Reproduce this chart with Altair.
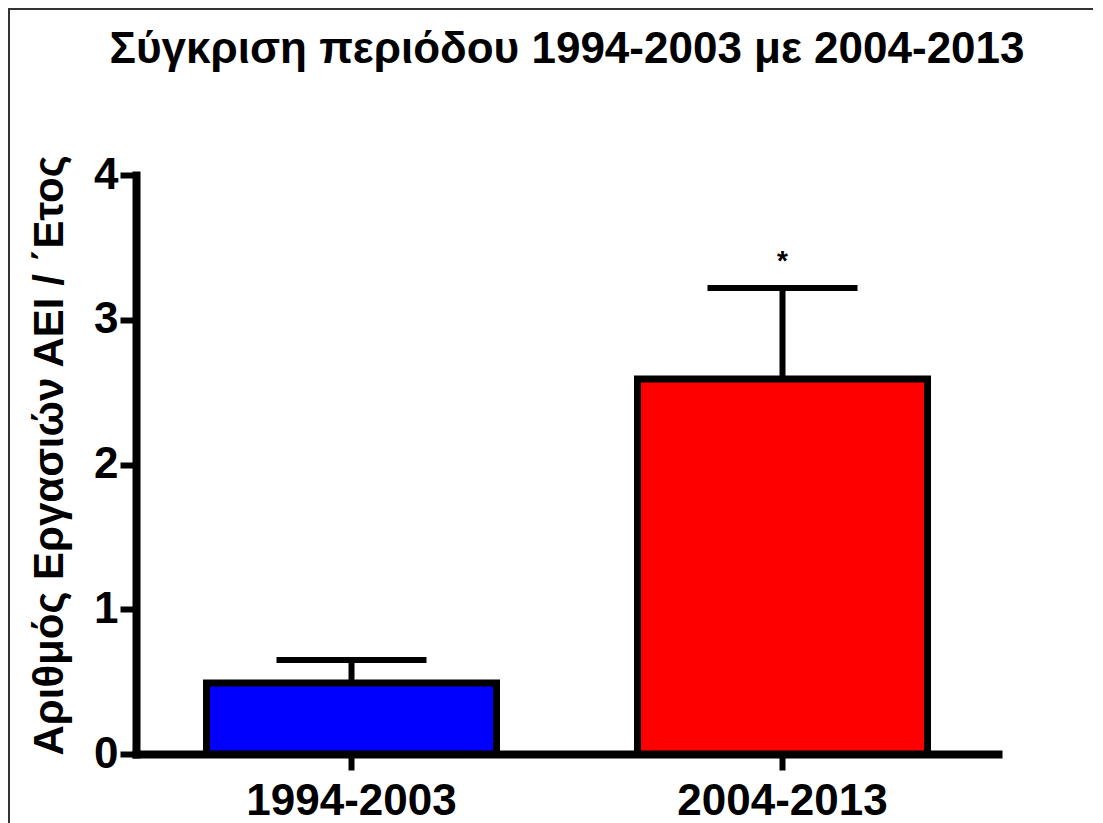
import altair as alt
import pandas as pd

# Data
periods = ["1994-2003", "2004-2013"]
means = [0.49, 2.59]
errors = [0.16, 0.63]
bar_colors = ["#0000FF", "#FF0000"]
marks = ["", "*"]

df = pd.DataFrame({
    "period": periods,
    "mean": means,
    "err": errors,
    "color": bar_colors,
    "mark": marks,
})
df["upper"] = df["mean"] + df["err"]

FONT = "Liberation Sans"
W, H = 862, 579

x_enc = alt.X("period:N", sort=periods,
              scale=alt.Scale(paddingInner=0, paddingOuter=0),
              axis=alt.Axis(title="", labelAngle=0, labelPadding=9, labelLimit=400))
y_scale = alt.Scale(domain=[0, 4], nice=False)

base = alt.Chart(df)

bars = base.mark_bar(size=290, stroke="black", strokeWidth=7).encode(
    x=x_enc,
    y=alt.Y("mean:Q", scale=y_scale,
            axis=alt.Axis(title="Αριθμός Εργασιών ΑΕΙ / ΄Ετος", values=[0, 1, 2, 3, 4],
                          format="d", grid=False, titlePadding=22, labelPadding=2,
                          titleY=280)),
    fill=alt.Fill("color:N", scale=None),
)

err_line = base.mark_rule(color="black", strokeWidth=6).encode(
    x=alt.X("period:N", sort=periods),
    y=alt.Y("mean:Q", scale=y_scale),
    y2="upper:Q",
)

err_cap = base.mark_tick(color="black", size=150, thickness=6, opacity=1,
                         orient="horizontal").encode(
    x=alt.X("period:N", sort=periods),
    y=alt.Y("upper:Q", scale=y_scale),
)

stars = base.mark_text(font=FONT, fontSize=28, fontWeight="bold", color="black",
                       baseline="middle", dy=-26).encode(
    x=alt.X("period:N", sort=periods),
    y=alt.Y("upper:Q", scale=y_scale),
    text="mark:N",
)

border = alt.Chart(pd.DataFrame({"a": [0]})).mark_rect(
    fill="transparent", stroke="#333333", strokeWidth=2).encode(
    x=alt.value(-127), x2=alt.value(961), y=alt.value(-166), y2=alt.value(720),
)

chart = alt.layer(border, bars, err_line, err_cap, stars).properties(
    width=W,
    height=H,
    background="white",
    title=alt.TitleParams(
        "Σύγκριση περιόδου 1994-2003 με 2004-2013",
        font=FONT, fontSize=44, fontWeight="bold", color="black",
        anchor="middle", frame="group", offset=0, baseline="middle", dy=86,
    ),
    padding={"left": 128, "top": 167, "right": 95, "bottom": 70},
    autosize=alt.AutoSizeParams(type="none"),
).configure_view(strokeWidth=0).configure_axis(
    domainColor="black", domainWidth=8, domainCap="square",
    tickColor="black", tickWidth=6, tickSize=16,
    labelFont=FONT, labelFontSize=44, labelFontWeight="bold", labelColor="black",
    titleFont=FONT, titleFontSize=42, titleFontWeight="bold", titleColor="black",
)

chart.save("out.html", embed_options={"renderer": "svg", "actions": False})
